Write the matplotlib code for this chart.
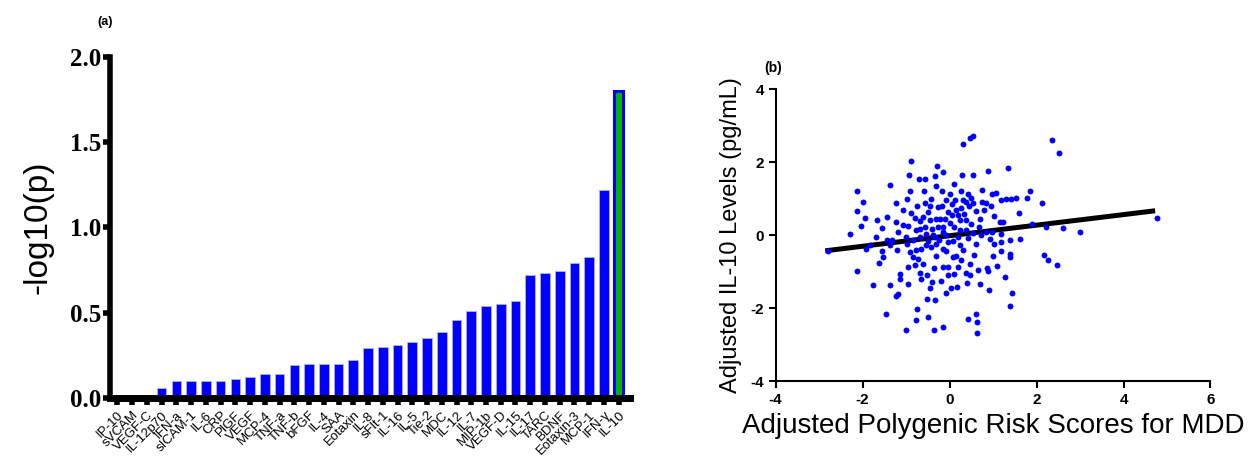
import numpy as np
import matplotlib
matplotlib.use("Agg")
import matplotlib.pyplot as plt

plt.rcParams["axes.unicode_minus"] = False

# ---- panel (a) data: -log10(p) per marker ----
markers = ["IP-10", "sVCAM", "VEGF-C", "IL-12p70", "IFN-a", "sICAM-1", "IL-6", "CRP",
           "PlGF", "VEGF", "MCP-4", "TNF-a", "TNF-b", "bFGF", "IL-4", "SAA", "Eotaxin",
           "IL-8", "sFlt-1", "IL-16", "IL-5", "Tie-2", "MDC", "IL-12", "IL-7", "MIP-1b",
           "VEGF-D", "IL-15", "IL-17", "TARC", "BDNF", "Eotaxin-3", "MCP-1", "IFN-\u03b3", "IL-10"]
logp = [0.0, 0.0, 0.0, 0.06, 0.10, 0.10, 0.10, 0.10, 0.11, 0.12, 0.14, 0.14, 0.19, 0.20,
        0.20, 0.20, 0.22, 0.29, 0.30, 0.31, 0.33, 0.35, 0.385, 0.457, 0.508, 0.538, 0.549,
        0.569, 0.721, 0.731, 0.743, 0.792, 0.824, 1.22, 1.80]
highlight = "IL-10"

# ---- panel (b) data: adjusted PRS vs adjusted IL-10 ----
prs = [0.54, 0.48, 0.31, 2.35, 2.51, -0.88, -0.29, -0.14, -0.93, -0.34, -0.70, -0.57, 0.28, 0.54,
       0.88, 1.34, -1.37, -2.13, -1.98, -2.13, -1.94, -2.04, -2.28, -1.67, -1.44, -1.23, -1.06,
       -0.92, -0.97, -0.59, -0.42, -0.56, -0.18, 0.01, -0.07, 0.27, 0.42, 0.50, 0.37, 0.54, 0.15,
       0.27, 0.19, 0.34, 0.38, 0.23, 0.98, 1.07, 1.19, 1.30, 1.42, 1.52, 1.78, 1.86, 2.13, 0.75,
       0.84, 0.96, 0.80, 0.69, 1.02, 1.15, 1.24, 2.22, 2.61, 2.99, 4.77, 1.63, 2.18, 2.26, 2.48,
       1.28, 1.43, 1.39, 0.61, 0.43, 0.64, 0.63, -0.16, -0.36, -1.01, -0.77, -0.50, -0.74, -1.45,
       -0.52, -0.34, -0.08, 0.04, 0.17, -1.23, -1.19, -1.76, -1.37, -1.15, -1.15, -0.46, -0.40,
       -0.66, -0.51, -0.67, -2.13, -1.63, -1.54, -1.92, -1.84, -1.55, -1.38, -1.44, -1.32, -1.19,
       -0.96, -0.80, -0.84, -0.73, -0.92, -0.77, -0.65, -0.54, -0.42, -0.31, -0.98, -0.84, -0.69,
       -0.50, -0.34, -0.31, -0.15, -0.08, -0.04, -0.15, 0.08, 0.15, 0.19, 0.11, -0.04, 0.38, 0.46,
       0.40, 0.26, 0.46, 0.56, 0.60, 0.42, 0.25, 0.09, 0.86, 0.88, 1.09, 0.99, 1.19, 1.38, 1.40,
       1.03, 0.92, 1.19, 1.38, 0.73, 0.84, 0.98, 1.19, -0.88, -0.80, -0.69, -0.50, -0.44, -0.32,
       -0.23, -0.27, -0.17, -0.04, 0.02, -0.14, -0.27, -0.40, -0.57, -0.69, -0.77, -0.96, -1.06,
       -1.23, 0.11, 0.25, 0.38, 0.54, 0.67, -0.54, -0.38, -0.08, -0.25, -0.04, -2.80,
       0.05, 0.12, 0.30, 0.45, 0.60, -0.10, 0.05, -0.60, -0.45, -0.75, -1.00, -0.60, -0.35, 0.30,
       0.65, 0.70, -0.20, 0.50, -0.15, 0.20, -1.55, -1.70, 1.60, 1.90, -0.30, 0.10, 0.75, -1.20,
       0.90, -0.95]
il10 = [2.71, 2.66, 2.49, 2.60, 2.24, 2.04, 1.89, 1.73, 1.64, 1.62, 1.55, 1.53, 1.65, 1.66,
        1.75, 1.85, 1.38, 1.21, 0.92, 0.67, 0.47, 0.25, 0.04, 0.42, 0.50, 0.88, 0.70,
        1.21, 1.00, 1.21, 1.00, 0.89, 1.20, 1.12, 0.95, 1.20, 1.12, 1.03, 0.91, 0.87, 0.68,
        0.75, 0.55, 0.59, 0.41, 0.41, 1.12, 1.16, 0.96, 1.00, 0.98, 1.03, 1.03, 1.21, 0.87, 0.92,
        0.87, 0.79, 0.70, 0.43, 0.53, 0.37, 0.37, 0.23, 0.20, 0.09, 0.47, -0.10, -0.55, -0.68, -0.82,
        -1.16, -1.58, -1.93, -2.16, -2.30, -2.39, -2.69, -2.52, -2.61, -2.61, -2.33, -2.24, -2.03, -2.16,
        -1.76, -1.78, -1.58, -1.46, -1.42, -1.66, -1.60, -1.36, -1.37, -1.21, -1.07, -1.44, -1.27,
        -1.19, -1.10, -1.05, -0.97, -0.75, -0.59, -0.38, -0.26, -0.44, -0.28, -0.14, -0.14, 0.08,
        -0.87, -0.82, -0.59, -0.64, -0.46, -0.41, -0.37, -0.27, -0.32, -0.25, -0.23, -0.14, -0.06,
        -0.16, -0.05, -0.57, -0.37, -0.43, -0.87, -0.87, -0.59, -0.58, -0.87, -1.07, -1.10, -1.05, -1.10,
        -1.30, -0.68, -0.79, -0.55, -0.25, -0.09, -0.27, -0.16, -0.89, -0.98, -0.84, -0.58, -0.44, -0.52, -0.59,
        -0.25, -0.11, -0.18, -0.12, 0.00, 0.09, 0.09, 0.03, 0.62, 0.48, 0.39, 0.64, 0.41, 0.43,
        0.43, 0.76, 0.80, 0.64, 0.34, 0.23, 0.23, 0.18, 0.23, 0.18, 0.14, 0.25, 0.27,
        0.37, 0.23, 0.14, 0.14, 0.05, 0.23, 0.03, 0.00, 0.00, -0.14, -0.18, -0.43,
        0.85, 0.95, 0.95, 0.80, 0.65, 0.45, 0.55, 0.50, 0.80, 0.80, -0.05, -0.80, -0.90, -0.40,
        -0.95, -1.35, -1.25, 0.30, 0.10, -0.05, 0.20, -0.05, 0.60, 0.30, 1.35, 1.40, 1.25, -0.40,
        -1.50, -1.35]

# regression line end points
fit_x = [-2.8, 4.67]
fit_y = [-0.42, 0.66]

fig = plt.figure(figsize=(12.57, 4.62), dpi=100)

# ---------------- panel (a) ----------------
ax1 = fig.add_axes([0.0875, 0.139, 0.4135, 0.738])
pos = np.arange(len(markers))
colors = ["#00b400" if m == highlight else "#0000ff" for m in markers]
bars = ax1.bar(pos, logp, width=0.65, color=colors, edgecolor="#b0b0ff", linewidth=0.6)
hi = markers.index(highlight)
bars[hi].set_edgecolor("#0000ff")
bars[hi].set_linewidth(2.2)

ax1.set_xlim(-0.5, len(markers) - 0.25)
ax1.set_ylim(0, 2.0)
ax1.set_yticks([0.0, 0.5, 1.0, 1.5, 2.0])
ax1.set_yticklabels(["0.0", "0.5", "1.0", "1.5", "2.0"], fontfamily="Liberation Serif",
                    fontweight="bold", fontsize=18)
ax1.set_xticks(pos)
ax1.set_xticklabels(markers, rotation=45, ha="right", rotation_mode="anchor",
                    fontfamily="Liberation Sans", fontsize=9.5)
ax1.tick_params(axis="y", length=5, width=4, pad=1)
ax1.tick_params(axis="x", length=5, width=4, pad=3)
for s in ["top", "right"]:
    ax1.spines[s].set_visible(False)
ax1.spines["left"].set_linewidth(4)
ax1.spines["bottom"].set_linewidth(5)
ax1.set_ylabel("-log10(p)", fontfamily="Liberation Sans", fontsize=24, labelpad=12)
fig.text(0.0775, 0.945, "(a)", fontfamily="Liberation Sans", fontweight="bold", fontsize=9)

# ---------------- panel (b) ----------------
ax2 = fig.add_axes([0.617, 0.175, 0.346, 0.632])
ax2.scatter(prs, il10, s=18, color="#0000ff", linewidths=0, zorder=3)
ax2.plot(fit_x, fit_y, color="black", linewidth=3.6, zorder=2)
ax2.set_xlim(-4, 6)
ax2.set_ylim(-4, 4)
ax2.set_xticks([-4, -2, 0, 2, 4, 6])
ax2.set_yticks([-4, -2, 0, 2, 4])
for lab in ax2.get_xticklabels() + ax2.get_yticklabels():
    lab.set_fontfamily("Liberation Sans")
    lab.set_fontweight("bold")
    lab.set_fontsize(11)
ax2.tick_params(length=5, width=1.5)
for s in ["top", "right"]:
    ax2.spines[s].set_visible(False)
for s in ["left", "bottom"]:
    ax2.spines[s].set_linewidth(1.5)
ax2.set_xlabel("Adjusted Polygenic Risk Scores for MDD", fontfamily="Liberation Sans",
               fontsize=20, labelpad=4)
ax2.set_ylabel("Adjusted IL-10 Levels (pg/mL)", fontfamily="Liberation Sans", fontsize=17,
               labelpad=6)
fig.text(0.608, 0.845, "(b)", fontfamily="Liberation Sans", fontweight="bold", fontsize=10)

fig.savefig("out.png", dpi=100)
